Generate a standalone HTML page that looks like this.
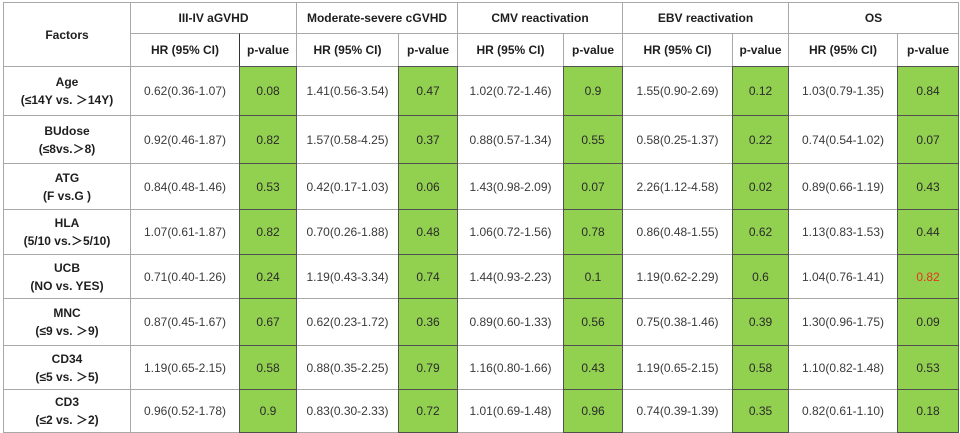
<!DOCTYPE html>
<html><head><meta charset="utf-8">
<style>
html,body{margin:0;padding:0;background:#fff;}
body{width:960px;height:433px;position:relative;overflow:hidden;font-family:"Liberation Sans","Noto Sans CJK SC",sans-serif;font-size:12px;}
.c{position:absolute;box-sizing:border-box;border:1px solid #a8a8a8;display:flex;align-items:center;justify-content:center;text-align:center;color:#3a3a3a;background:#fff;}
.h{font-weight:bold;color:#1e1e1e;}
.f{font-weight:bold;color:#1e1e1e;line-height:18px;flex-direction:column;}
.g{background:#92d050;border-color:#505050;color:#2a2a2a;}
.k0{left:3px;width:128px}.k1{left:130px;width:110px}.k2{left:239px;width:58px}.k3{left:296px;width:103px}
.k4{left:398px;width:60px}.k5{left:457px;width:107px}.k6{left:563px;width:60px}.k7{left:622px;width:111px}
.k8{left:732px;width:57px}.k9{left:788px;width:110px}.k10{left:897px;width:62px}
.hr2{top:33px;height:34px}
.r1{top:66px;height:50px}.r2{top:115px;height:49px}.r3{top:163px;height:47px}.r4{top:209px;height:46px}
.r5{top:254px;height:45px}.r6{top:298px;height:48px}.r7{top:345px;height:45px}.r8{top:389px;height:44px}
.red{color:#e8321e;}
</style></head><body>
<div class="c h" style="left:3px;top:2px;width:128px;height:65px;">Factors</div>
<div class="c h" style="left:130px;top:2px;width:167px;height:32px;">III-IV aGVHD</div>
<div class="c h" style="left:296px;top:2px;width:162px;height:32px;">Moderate-severe cGVHD</div>
<div class="c h" style="left:457px;top:2px;width:166px;height:32px;">CMV reactivation</div>
<div class="c h" style="left:622px;top:2px;width:167px;height:32px;">EBV reactivation</div>
<div class="c h" style="left:788px;top:2px;width:171px;height:32px;">OS</div>

<div class="c h k1 hr2">HR (95% CI)</div><div class="c h k3 hr2">HR (95% CI)</div><div class="c h k5 hr2">HR (95% CI)</div><div class="c h k7 hr2">HR (95% CI)</div><div class="c h k9 hr2">HR (95% CI)</div>
<div class="c h k2 hr2" style="border-left-color:#333">p-value</div><div class="c h k4 hr2">p-value</div><div class="c h k6 hr2">p-value</div><div class="c h k8 hr2">p-value</div><div class="c h k10 hr2">p-value</div>

<!-- factor cells -->
<div class="c f k0 r1"><span>Age</span><span>(≤14Y vs. ＞14Y)</span></div>
<div class="c f k0 r2"><span>BUdose</span><span>(≤8vs.＞8)</span></div>
<div class="c f k0 r3"><span>ATG</span><span>(F vs.G )</span></div>
<div class="c f k0 r4"><span>HLA</span><span>(5/10 vs.＞5/10)</span></div>
<div class="c f k0 r5"><span>UCB</span><span>(NO vs. YES)</span></div>
<div class="c f k0 r6"><span>MNC</span><span>(≤9 vs. ＞9)</span></div>
<div class="c f k0 r7"><span>CD34</span><span>(≤5 vs. ＞5)</span></div>
<div class="c f k0 r8"><span>CD3</span><span>(≤2 vs. ＞2)</span></div>

<!-- HR cells -->
<div class="c k1 r1">0.62(0.36-1.07)</div><div class="c k3 r1">1.41(0.56-3.54)</div><div class="c k5 r1">1.02(0.72-1.46)</div><div class="c k7 r1">1.55(0.90-2.69)</div><div class="c k9 r1">1.03(0.79-1.35)</div>
<div class="c k1 r2">0.92(0.46-1.87)</div><div class="c k3 r2">1.57(0.58-4.25)</div><div class="c k5 r2">0.88(0.57-1.34)</div><div class="c k7 r2">0.58(0.25-1.37)</div><div class="c k9 r2">0.74(0.54-1.02)</div>
<div class="c k1 r3">0.84(0.48-1.46)</div><div class="c k3 r3">0.42(0.17-1.03)</div><div class="c k5 r3">1.43(0.98-2.09)</div><div class="c k7 r3">2.26(1.12-4.58)</div><div class="c k9 r3">0.89(0.66-1.19)</div>
<div class="c k1 r4">1.07(0.61-1.87)</div><div class="c k3 r4">0.70(0.26-1.88)</div><div class="c k5 r4">1.06(0.72-1.56)</div><div class="c k7 r4">0.86(0.48-1.55)</div><div class="c k9 r4">1.13(0.83-1.53)</div>
<div class="c k1 r5">0.71(0.40-1.26)</div><div class="c k3 r5">1.19(0.43-3.34)</div><div class="c k5 r5">1.44(0.93-2.23)</div><div class="c k7 r5">1.19(0.62-2.29)</div><div class="c k9 r5">1.04(0.76-1.41)</div>
<div class="c k1 r6">0.87(0.45-1.67)</div><div class="c k3 r6">0.62(0.23-1.72)</div><div class="c k5 r6">0.89(0.60-1.33)</div><div class="c k7 r6">0.75(0.38-1.46)</div><div class="c k9 r6">1.30(0.96-1.75)</div>
<div class="c k1 r7">1.19(0.65-2.15)</div><div class="c k3 r7">0.88(0.35-2.25)</div><div class="c k5 r7">1.16(0.80-1.66)</div><div class="c k7 r7">1.19(0.65-2.15)</div><div class="c k9 r7">1.10(0.82-1.48)</div>
<div class="c k1 r8">0.96(0.52-1.78)</div><div class="c k3 r8">0.83(0.30-2.33)</div><div class="c k5 r8">1.01(0.69-1.48)</div><div class="c k7 r8">0.74(0.39-1.39)</div><div class="c k9 r8">0.82(0.61-1.10)</div>

<!-- p-value cells (green) -->
<div class="c g k2 r1">0.08</div><div class="c g k4 r1">0.47</div><div class="c g k6 r1">0.9</div><div class="c g k8 r1">0.12</div><div class="c g k10 r1">0.84</div>
<div class="c g k2 r2">0.82</div><div class="c g k4 r2">0.37</div><div class="c g k6 r2">0.55</div><div class="c g k8 r2">0.22</div><div class="c g k10 r2">0.07</div>
<div class="c g k2 r3">0.53</div><div class="c g k4 r3">0.06</div><div class="c g k6 r3">0.07</div><div class="c g k8 r3">0.02</div><div class="c g k10 r3">0.43</div>
<div class="c g k2 r4">0.82</div><div class="c g k4 r4">0.48</div><div class="c g k6 r4">0.78</div><div class="c g k8 r4">0.62</div><div class="c g k10 r4">0.44</div>
<div class="c g k2 r5">0.24</div><div class="c g k4 r5">0.74</div><div class="c g k6 r5">0.1</div><div class="c g k8 r5">0.6</div><div class="c g k10 r5"><span class="red">0.82</span></div>
<div class="c g k2 r6">0.67</div><div class="c g k4 r6">0.36</div><div class="c g k6 r6">0.56</div><div class="c g k8 r6">0.39</div><div class="c g k10 r6">0.09</div>
<div class="c g k2 r7">0.58</div><div class="c g k4 r7">0.79</div><div class="c g k6 r7">0.43</div><div class="c g k8 r7">0.58</div><div class="c g k10 r7">0.53</div>
<div class="c g k2 r8">0.9</div><div class="c g k4 r8">0.72</div><div class="c g k6 r8">0.96</div><div class="c g k8 r8">0.35</div><div class="c g k10 r8">0.18</div>
</body></html>
